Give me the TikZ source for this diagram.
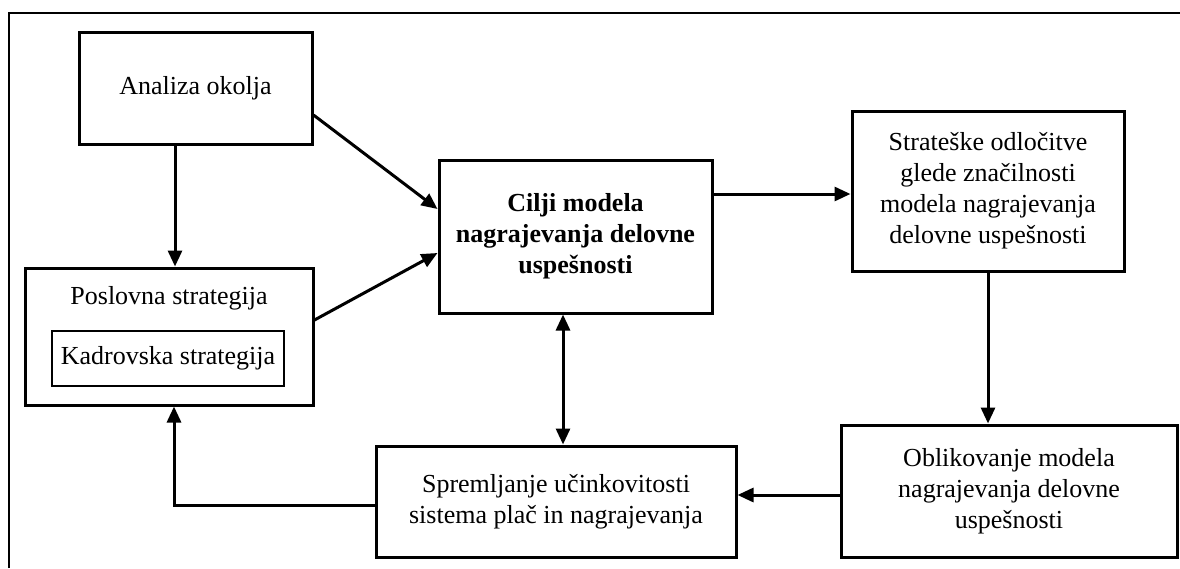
\documentclass[tikz,border=0pt]{standalone}
\usepackage{fontspec}
\setmainfont{Liberation Serif}
\usetikzlibrary{arrows.meta,calc}

\begin{document}
\begin{tikzpicture}[x=1pt,y=-1pt,
  box/.style={draw, line width=3pt, align=center, inner sep=0pt,
    font=\fontsize{26}{31}\selectfont},
  innerbox/.style={draw, line width=2pt, align=center, inner sep=0pt,
    font=\fontsize{26}{31}\selectfont},
  lbl/.style={align=center, inner sep=0pt, font=\fontsize{26}{31}\selectfont},
  arr/.style={line width=3pt, -{Triangle[length=16pt,width=14pt]}},
  dblarr/.style={line width=3pt, {Triangle[length=16pt,width=14pt]}-{Triangle[length=16pt,width=14pt]}}
]
\useasboundingbox (0,0) rectangle (1180,568);
\fill[white] (0,0) rectangle (1180,568);

% surrounding frame
\draw[line width=2pt] (9,568) -- (9,13) -- (1180,13);

% boxes
\node[box, minimum width=233pt, minimum height=112pt] (ana) at (195.5,88) {Analiza okolja};

\node[box, minimum width=288pt, minimum height=137pt] (pos) at (169,336.5) {};
\node[lbl] (postxt) at (169,298) {Poslovna strategija};
\node[innerbox, minimum width=232pt, minimum height=55pt] (kad) at (168,358.5) {Kadrovska strategija};

\node[box, minimum width=273pt, minimum height=153pt, font=\fontsize{26}{31}\selectfont\bfseries] (cil) at (575.5,236.5)
  {Cilji modela\\nagrajevanja delovne\\uspešnosti};

\node[box, minimum width=272pt, minimum height=160pt] (str) at (988,191)
  {Strateške odločitve\\glede značilnosti\\modela nagrajevanja\\delovne uspešnosti};

\node[box, minimum width=336pt, minimum height=132pt] (obl) at (1009,491)
  {Oblikovanje modela\\nagrajevanja delovne\\uspešnosti};

\node[box, minimum width=360pt, minimum height=111pt] (spr) at (556,501.5)
  {Spremljanje učinkovitosti\\sistema plač in nagrajevanja};

% connection points
\coordinate (anaS) at ([xshift=-20.5pt]ana.south);
\coordinate (anaE) at ([yshift=-27pt]ana.east);
\coordinate (posE) at ([yshift=16.5pt]pos.east);
\coordinate (cilW1) at ([yshift=27.5pt]cil.west);
\coordinate (cilW2) at ([yshift=-16.5pt]cil.west);
\coordinate (cilE) at ([yshift=42.5pt]cil.east);
\coordinate (cilS) at ([xshift=-12.5pt]cil.south);
\coordinate (oblW) at ([yshift=-4pt]obl.west);
\coordinate (sprW) at ([yshift=-3.5pt]spr.west);
\coordinate (posS) at ([xshift=5pt]pos.south);

% connectors
\draw[arr] (anaS) -- (anaS |- pos.north);
\draw[arr] (anaE) -- (cilW1);
\draw[arr] (posE) -- (cilW2);
\draw[arr] (cilE) -- (cilE -| str.west);
\draw[arr] (str.south) -- (str.south |- obl.north);
\draw[arr] (oblW) -- (oblW -| spr.east);
\draw[arr] (sprW) -| (posS);
\draw[dblarr] (cilS) -- (cilS |- spr.north);
\end{tikzpicture}
\end{document}
